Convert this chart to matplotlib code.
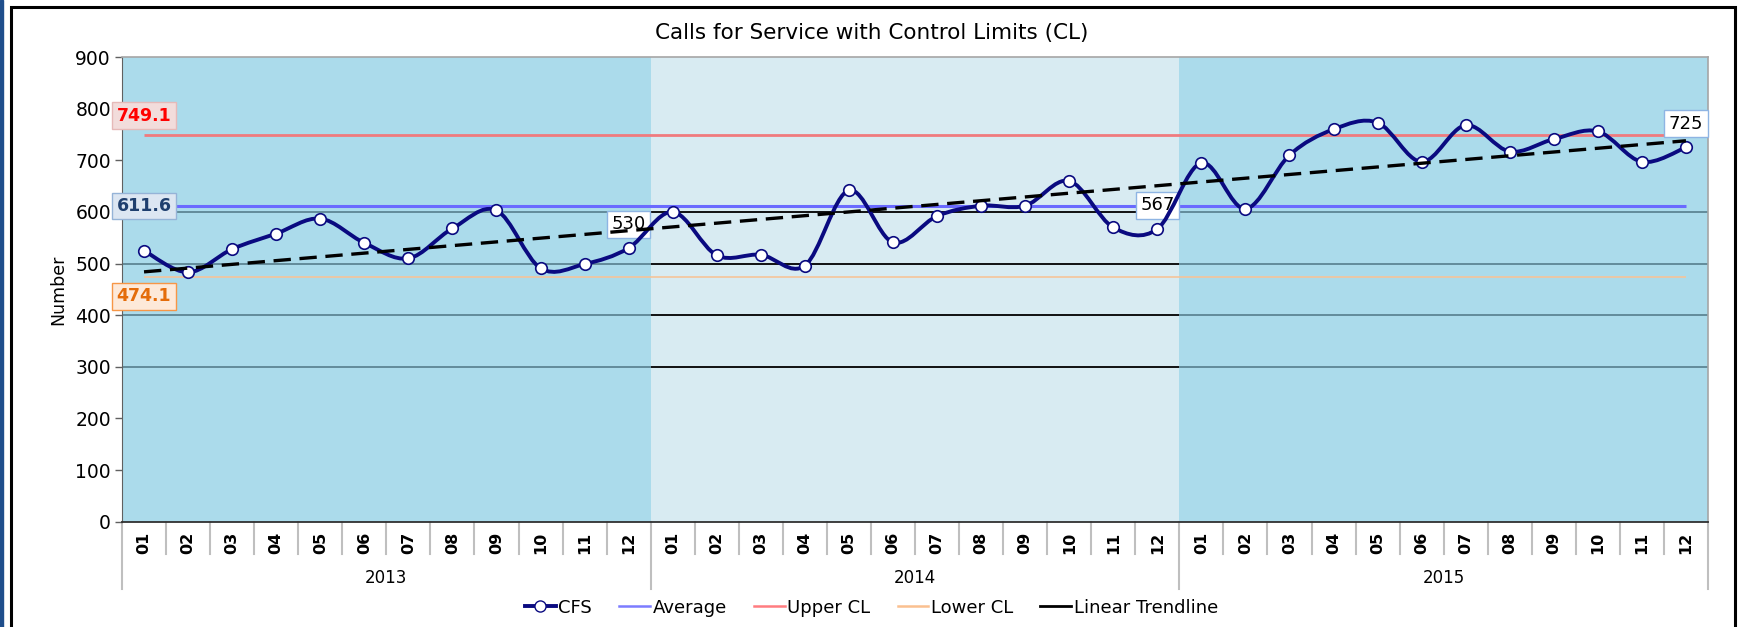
import numpy as np
import matplotlib
matplotlib.use("Agg")
import matplotlib.pyplot as plt
import matplotlib.transforms as mtransforms
from matplotlib.path import Path
from matplotlib.patches import PathPatch, Rectangle
from matplotlib.lines import Line2D

# data
years = ["2013", "2014", "2015"]
months = ["01", "02", "03", "04", "05", "06", "07", "08", "09", "10", "11", "12"]
cfs_2013 = [525, 483, 528, 558, 587, 540, 510, 568, 603, 491, 499, 530]
cfs_2014 = [600, 516, 517, 496, 642, 541, 592, 612, 612, 660, 570, 567]
cfs_2015 = [695, 606, 710, 760, 773, 697, 768, 717, 741, 756, 697, 725]
average = 611.6
upper_cl = 749.1
lower_cl = 474.1
grid_levels = [300, 400, 500, 600]

cfs = cfs_2013 + cfs_2014 + cfs_2015
x = np.arange(len(cfs))

NAVY = "#0A0A80"
BAND = "#92D2E8"
BG = "#D8EBF2"


def smooth_path(xs, ys):
    # Excel style smoothed line: cubic bezier through every point
    n = len(xs)
    verts = [(xs[0], ys[0])]
    codes = [Path.MOVETO]
    for i in range(n - 1):
        x0, y0 = xs[max(i - 1, 0)], ys[max(i - 1, 0)]
        x1, y1 = xs[i], ys[i]
        x2, y2 = xs[i + 1], ys[i + 1]
        x3, y3 = xs[min(i + 2, n - 1)], ys[min(i + 2, n - 1)]
        verts += [(x1 + (x2 - x0) / 6, y1 + (y2 - y0) / 6),
                  (x2 - (x3 - x1) / 6, y2 - (y3 - y1) / 6),
                  (x2, y2)]
        codes += [Path.CURVE4] * 3
    return Path(verts, codes)


fig = plt.figure(figsize=(17.43, 6.27), dpi=100)

# outer frame like the exported chart
fig.patches.append(Rectangle((0, 0), 3 / 1743, 1, transform=fig.transFigure,
                             color="#1F4E8C", zorder=0))
fig.patches.append(Rectangle((10.5 / 1743, -0.05), (1735 - 10.5) / 1743, 1.05 - 7 / 627,
                             transform=fig.transFigure, fill=False,
                             ec="black", lw=2.2, zorder=0))

ax = fig.add_axes([122 / 1743, 0.168, (1708 - 122) / 1743, 0.741])
ax.set_facecolor(BG)

# year bands (2013 and 2015 darker)
for k in range(len(years)):
    if k % 2 == 0:
        ax.axvspan(k * 12 - 0.5, k * 12 + 11.5, color=BAND, alpha=0.64, lw=0, zorder=1)

ax.hlines(grid_levels, -0.5, len(cfs) - 0.5, color="black", lw=1.3, zorder=0.5)

# control limits and average
ax.hlines(average, 0, len(cfs) - 1, color="#6A6AFF", lw=2.2, zorder=2)
ax.hlines(upper_cl, 0, len(cfs) - 1, color="#F07A7E", lw=2.0, zorder=2)
ax.hlines(lower_cl, 0, len(cfs) - 1, color="#F5C49A", lw=1.2, zorder=2)

ax.annotate(f"{upper_cl:.1f}", (0, upper_cl), xytext=(0, 14), textcoords="offset points",
            ha="center", va="center", fontsize=12.5, fontweight="bold", color="#FF0000",
            bbox=dict(boxstyle="square,pad=0.25", fc="#F2DCDB", ec="#E6B9B8", lw=1), zorder=3)
ax.annotate(f"{average:.1f}", (0, average), xytext=(0, 0), textcoords="offset points",
            ha="center", va="center", fontsize=12.5, fontweight="bold", color="#1F3F6E",
            bbox=dict(boxstyle="square,pad=0.25", fc="#DCE6F2", ec="#95B3D7", lw=1), zorder=3)
ax.annotate(f"{lower_cl:.1f}", (0, lower_cl), xytext=(0, -14), textcoords="offset points",
            ha="center", va="center", fontsize=12.5, fontweight="bold", color="#E46C0A",
            bbox=dict(boxstyle="square,pad=0.25", fc="#FDE9D9", ec="#F79646", lw=1), zorder=3)

# labels on last month of each year
for k in range(len(years)):
    i = k * 12 + 11
    ax.annotate(f"{cfs[i]:.0f}", (i, cfs[i]), xytext=(0, 17), textcoords="offset points",
                ha="center", va="center", fontsize=13, color="black",
                bbox=dict(boxstyle="square,pad=0.25", fc="white", ec="#8EB4E3", lw=1), zorder=3)

# CFS smoothed line with markers
ax.add_patch(PathPatch(smooth_path(x, cfs), fill=False, ec=NAVY, lw=2.8, zorder=4,
                       capstyle="round", joinstyle="round"))
ax.plot(x, cfs, ls="none", marker="o", ms=8.3, mfc="white", mec=NAVY, mew=1.2, zorder=4.5)

# linear trendline
slope, icept = np.polyfit(x, cfs, 1)
ax.plot([x[0], x[-1]], [icept + slope * x[0], icept + slope * x[-1]],
        color="black", lw=2.4, ls=(0, (5.2, 2.6)), zorder=5)

ax.set_xlim(-0.5, len(cfs) - 0.5)
ax.set_ylim(0, 900)
ax.set_yticks(range(0, 901, 100))
ax.tick_params(axis="y", labelsize=13.5, length=5, width=1, color="#606060", pad=3)
ax.set_xticks([])
ax.set_ylabel("Number", fontsize=12.5, labelpad=6)

for side in ["top", "right"]:
    ax.spines[side].set_color("#A6A6A6")
    ax.spines[side].set_linewidth(1.2)
ax.spines["left"].set_color("#606060")
ax.spines["bottom"].set_color("#303030")
ax.spines["bottom"].set_linewidth(1.3)

# two level category axis
trans = mtransforms.blended_transform_factory(ax.transData, ax.transAxes)
h_ax = 0.741 * 627
for b in range(len(cfs) + 1):
    depth = 67 if b % 12 == 0 else 32
    ax.plot([b - 0.5, b - 0.5], [0, -depth / h_ax], transform=trans, color="#BFBFBF",
            lw=1.5, clip_on=False, zorder=1)
for i in range(len(cfs)):
    ax.text(i, -21 / h_ax, months[i % 12], transform=trans, rotation=90, ha="center",
            va="center", fontsize=11.5, fontweight="bold")
for k, yr in enumerate(years):
    ax.text(k * 12 + 5.5, -56 / h_ax, yr, transform=trans, ha="center", va="center",
            fontsize=12)

fig.text(0.5, 0.947, "Calls for Service with Control Limits (CL)", ha="center",
         va="center", fontsize=15.5)

handles = [
    Line2D([], [], color=NAVY, lw=2.8, marker="o", ms=8, mfc="white", mec=NAVY),
    Line2D([], [], color="#7C7CFF", lw=1.8),
    Line2D([], [], color="#FF7C80", lw=1.8),
    Line2D([], [], color="#FAC090", lw=1.8),
    Line2D([], [], color="black", lw=2.0),
]
fig.legend(handles, ["CFS", "Average", "Upper CL", "Lower CL", "Linear Trendline"],
           loc="center", bbox_to_anchor=(0.5, 0.031), ncol=5, frameon=False,
           fontsize=13, handlelength=1.7, handletextpad=0.15, columnspacing=1.5)

plt.savefig("out.png", dpi=100)
